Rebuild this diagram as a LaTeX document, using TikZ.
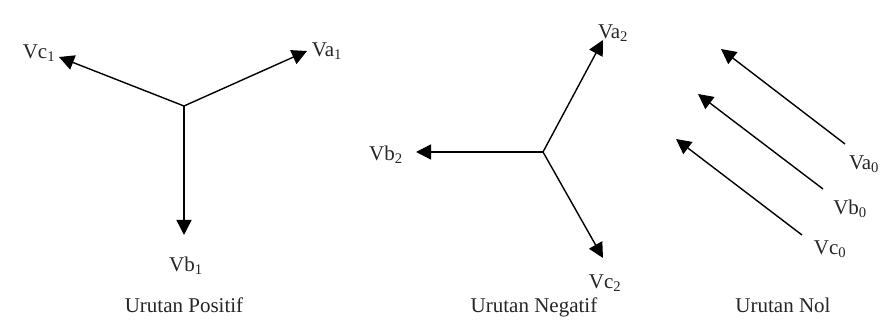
\documentclass[tikz,border=0pt]{standalone}
\usepackage{fontspec}
\setmainfont{Liberation Serif}
\usetikzlibrary{arrows.meta}
\begin{document}
\begin{tikzpicture}[x=1pt,y=-1pt,
  vec/.style={line width=1.4pt,-{Triangle[length=15pt,width=15pt]}},
  lbl/.style={inner sep=0pt,font=\fontsize{21}{23}\selectfont,text=black!85},
  ttl/.style={inner sep=0pt,anchor=base,font=\fontsize{21}{23}\selectfont,text=black!85}]
\useasboundingbox[fill=white] (0,0) rectangle (881,328);
% Urutan Positif
\coordinate (o1) at (184,106);
\coordinate (a1) at (307,51);
\coordinate (b1) at (184,235);
\coordinate (c1) at (59,57);
\draw[vec] (o1) -- (a1);
\draw[vec] (o1) -- (b1);
\draw[vec] (o1) -- (c1);
\node[lbl] (la1) at (327,51) {Va\textsubscript{1}};
\node[lbl] (lb1) at (186,266) {Vb\textsubscript{1}};
\node[lbl] (lc1) at (39,53) {Vc\textsubscript{1}};
\node[ttl] (t1) at (184,313) {Urutan Positif};
% Urutan Negatif
\coordinate (o2) at (543,152);
\coordinate (a2) at (603,40);
\coordinate (b2) at (416,152);
\coordinate (c2) at (603,258);
\draw[vec] (o2) -- (a2);
\draw[vec] (o2) -- (b2);
\draw[vec] (o2) -- (c2);
\node[lbl] (la2) at (613,33) {Va\textsubscript{2}};
\node[lbl] (lb2) at (386,155) {Vb\textsubscript{2}};
\node[lbl] (lc2) at (605,283) {Vc\textsubscript{2}};
\node[ttl] (t2) at (534,313) {Urutan Negatif};
% Urutan Nol
\coordinate (sa) at (845,144);
\coordinate (ea) at (721,49);
\coordinate (sb) at (823,189);
\coordinate (eb) at (698,94);
\coordinate (sc) at (802,235);
\coordinate (ec) at (676,139);
\draw[vec] (sa) -- (ea);
\draw[vec] (sb) -- (eb);
\draw[vec] (sc) -- (ec);
\node[lbl] (la0) at (864,164) {Va\textsubscript{0}};
\node[lbl] (lb0) at (850,209) {Vb\textsubscript{0}};
\node[lbl] (lc0) at (830,249) {Vc\textsubscript{0}};
\node[ttl] (t0) at (783,313) {Urutan Nol};
\end{tikzpicture}
\end{document}
